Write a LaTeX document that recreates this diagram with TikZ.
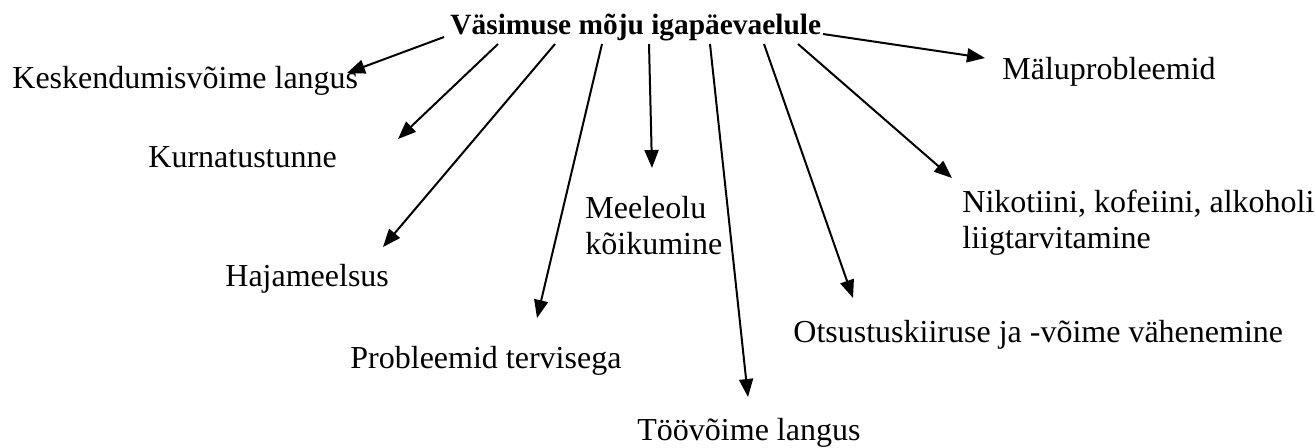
\documentclass[tikz,border=0pt]{standalone}
\usepackage{fontspec}
\setmainfont{Liberation Serif}
\usetikzlibrary{arrows.meta}
\begin{document}
\begin{tikzpicture}[x=0.5pt,y=-0.5pt,
  lbl/.style={anchor=base west,inner sep=0pt,font=\fontsize{16}{18}\selectfont,align=left},
  ttl/.style={anchor=base west,inner sep=0pt,font=\fontsize{14.7}{16}\selectfont\bfseries},
  arr/.style={-{Triangle[length=9pt,width=7pt]},line width=1pt}]
\useasboundingbox (0,0) rectangle (1315,447);
\node[ttl] (title) at (450,34) {Väsimuse mõju igapäevaelule};
\node[lbl] (kesk) at (12,88) {Keskendumisvõime langus};
\node[lbl] (kurn) at (148,167) {Kurnatustunne};
\node[lbl] (haja) at (225,286) {Hajameelsus};
\node[lbl] (prob) at (350,368) {Probleemid tervisega};
\node[lbl] (meel) at (585,254) {Meeleolu\\kõikumine};
\node[lbl] (too) at (637,440) {Töövõime langus};
\node[lbl] (otsu) at (793,342) {Otsustuskiiruse ja -võime vähenemine};
\node[lbl] (niko) at (962,248) {Nikotiini, kofeiini, alkoholi\\liigtarvitamine};
\node[lbl] (malu) at (1002,79) {Mäluprobleemid};
% start points on the title
\coordinate (s1) at (444,37);
\coordinate (s2) at (498,44);
\coordinate (s3) at (555,44);
\coordinate (s4) at (602,44);
\coordinate (s5) at (649,44);
\coordinate (s6) at (710,44);
\coordinate (s7) at (764,44);
\coordinate (s8) at (798,44);
\coordinate (s9) at (823,34);
% arrow tips near the labels
\coordinate (e1) at (347,73);
\coordinate (e2) at (398,139);
\coordinate (e3) at (383,247);
\coordinate (e4) at (537,318);
\coordinate (e5) at (652,168);
\coordinate (e6) at (748,397);
\coordinate (e7) at (853,298);
\coordinate (e8) at (952,178);
\coordinate (e9) at (985,58);
\foreach \i in {1,...,9} {\draw[arr] (s\i) -- (e\i);}
\end{tikzpicture}
\end{document}
